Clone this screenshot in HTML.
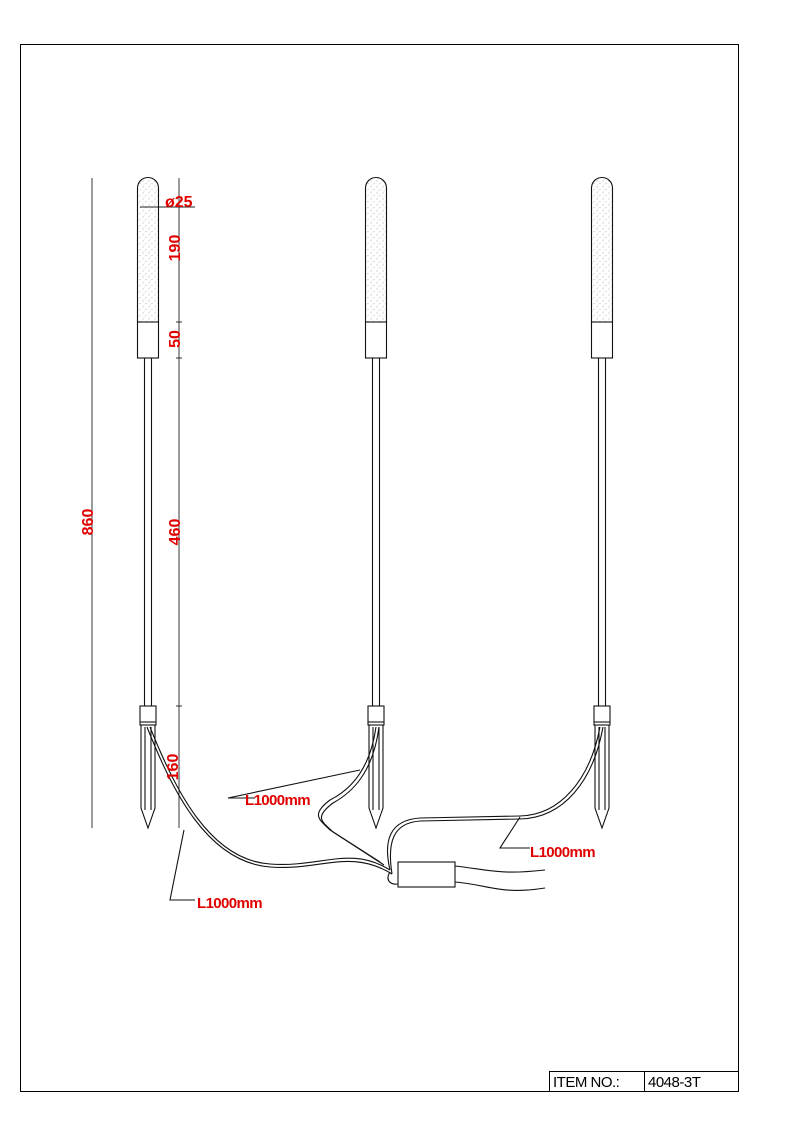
<!DOCTYPE html>
<html><head><meta charset="utf-8"><style>html,body{margin:0;padding:0;background:#fff}svg{display:block}</style></head><body>
<svg width="793" height="1123" viewBox="0 0 793 1123" xmlns="http://www.w3.org/2000/svg">
<defs>
<pattern id="dots" width="6" height="6" patternUnits="userSpaceOnUse">
<rect width="6" height="6" fill="#fff"/>
<circle cx="1" cy="1" r="0.45" fill="#888"/><circle cx="4" cy="3.5" r="0.45" fill="#999"/><circle cx="2" cy="5" r="0.4" fill="#aaa"/>
</pattern>
<g id="pole" fill="none" stroke="#111" stroke-width="1.1">
<path d="M-10.5 322 V188 A10.5 10.5 0 0 1 10.5 188 V322 Z" fill="url(#dots)"/>
<rect x="-10.5" y="322" width="21" height="36" fill="#fff"/>
<line x1="-3.5" y1="358" x2="-3.5" y2="706"/><line x1="3.5" y1="358" x2="3.5" y2="706"/>
<rect x="-8" y="706" width="16" height="19" fill="#fff"/>
<line x1="-8" y1="722" x2="8" y2="722"/>
<path d="M-7 725 V808 L0 828 L7 808 V725"/>
<line x1="-3" y1="727" x2="-3" y2="810"/><line x1="3" y1="727" x2="3" y2="810"/>
</g>
</defs>
<rect x="20.5" y="44.5" width="718" height="1047" fill="none" stroke="#000" stroke-width="1"/>
<use href="#pole" x="148"/>
<use href="#pole" x="376"/>
<use href="#pole" x="602"/>
<g stroke="#222" stroke-width="0.9" fill="none">
<line x1="92" y1="178" x2="92" y2="828"/>
<line x1="179" y1="178" x2="179" y2="828"/>
<line x1="176" y1="322" x2="182" y2="322"/><line x1="176" y1="358" x2="182" y2="358"/>
<line x1="176" y1="706" x2="182" y2="706"/>
<line x1="140" y1="207" x2="195" y2="207"/>
</g>
<g stroke="#111" stroke-width="1.1" fill="none">
<path d="M150 727 C175 790 210 860 270 864 C320 868 350 845 390 870"/>
<path d="M147 727 C172 790 207 862 270 867 C320 871 350 848 392 874"/>
<path d="M376 727 C370 770 350 790 330 800 C310 815 320 820 330 830 L380 862"/>
<path d="M379 727 C373 772 353 792 333 803 C313 818 323 822 333 832 L384 865"/>
<path d="M600 727 C590 780 560 815 520 816 L420 818 C390 820 383 840 390 870"/>
<path d="M603 727 C593 782 563 818 520 819 L420 821 C393 823 387 842 392 874"/>
<path d="M390 872 C385 880 390 885 398 884"/>
<path d="M455 866 C490 870 500 875 545 870"/>
<path d="M455 882 C490 885 500 895 545 888"/>
<rect x="398" y="862" width="57" height="25" fill="#fff"/>
<polyline points="228,798 360,770"/>
<polyline points="228,798 255,798"/>
<polyline points="184,830 170,900 195,900"/>
<polyline points="520,817 500,848 530,848"/>
</g>
<g font-family="Liberation Sans, sans-serif" font-weight="bold" fill="#e00000">
<text x="165" y="207" font-size="16">ø25</text>
<text x="245" y="805" font-size="15" letter-spacing="-0.6">L1000mm</text>
<text x="197" y="908" font-size="15" letter-spacing="-0.6">L1000mm</text>
<text x="530" y="857" font-size="15" letter-spacing="-0.6">L1000mm</text>
<text transform="translate(180,248) rotate(-90)" text-anchor="middle" font-size="16">190</text>
<text transform="translate(180,339) rotate(-90)" text-anchor="middle" font-size="16">50</text>
<text transform="translate(180,532) rotate(-90)" text-anchor="middle" font-size="16">460</text>
<text transform="translate(178,767) rotate(-90)" text-anchor="middle" font-size="16">160</text>
<text transform="translate(93,522) rotate(-90)" text-anchor="middle" font-size="16">860</text>
</g>
<rect x="549.5" y="1071.5" width="189" height="20" fill="none" stroke="#000"/>
<line x1="644.5" y1="1071" x2="644.5" y2="1092" stroke="#000"/>
<g font-family="Liberation Sans, sans-serif" font-size="15" fill="#000">
<text x="553" y="1087" letter-spacing="-0.5">ITEM NO.:</text>
<text x="648" y="1087" letter-spacing="-0.5">4048-3T</text>
</g>
</svg>
</body></html>
